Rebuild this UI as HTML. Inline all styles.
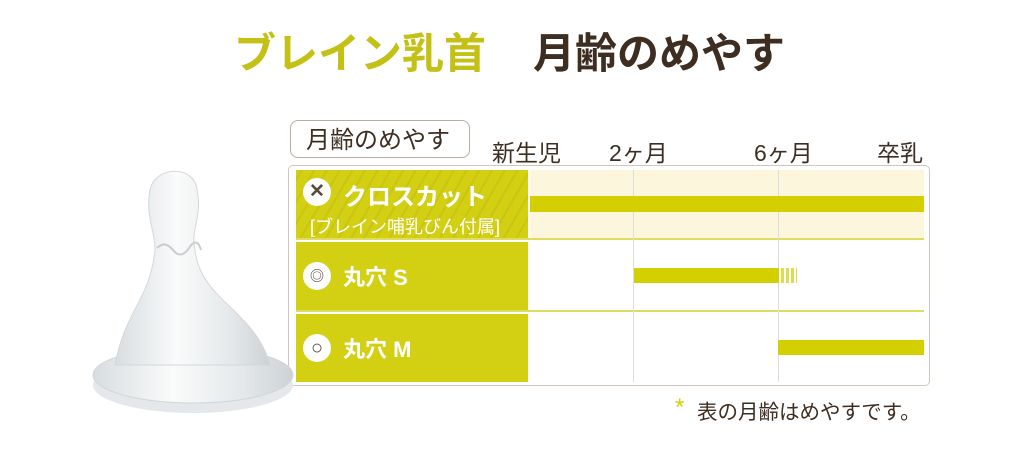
<!DOCTYPE html>
<html><head><meta charset="utf-8"><style>
body{margin:0;width:1024px;height:455px;background:#fff;position:relative;overflow:hidden;font-family:"Liberation Sans","Noto Sans CJK JP",sans-serif;color:#3e2e22}
.a{position:absolute;white-space:nowrap}
.lab{background:#d3cf13;color:#fff;font-weight:bold}
.ic{position:absolute;width:28px;height:28px;border-radius:50%;background:#fff;color:#5a4a3a;text-align:center;line-height:28px;font-size:19px;font-weight:bold}
</style></head><body>
<div class="a" style="left:234px;top:20px;font-size:42px;color:#c4c116;font-weight:bold">ブレイン乳首</div>
<div class="a" style="left:533px;top:20px;font-size:42px;color:#3e2e22;font-weight:bold">月齢のめやす</div>

<div class="a" style="left:290px;top:120px;width:178px;height:36px;border:1.5px solid #b8aca0;border-radius:8px;background:#fff"></div>
<div class="a" style="left:306px;top:120px;font-size:24px">月齢のめやす</div>
<div class="a" style="left:492px;top:134px;font-size:23px">新生児</div>
<div class="a" style="left:609px;top:134px;font-size:23px">2ヶ月</div>
<div class="a" style="left:754px;top:134px;font-size:23px">6ヶ月</div>
<div class="a" style="left:877px;top:134px;font-size:23px">卒乳</div>

<div class="a" style="left:288px;top:165px;width:642px;height:221px;border:1.5px solid #cfc7bd;border-radius:5px;box-sizing:border-box"></div>
<div class="a" style="left:530px;top:170px;width:394px;height:68px;background:#fbf6dc"></div>
<div class="a" style="left:296px;top:238px;width:628px;height:2px;background:#e0dc60"></div>
<div class="a" style="left:296px;top:310px;width:628px;height:2px;background:#e0dc60"></div>
<div class="a" style="left:633px;top:170px;width:1px;height:212px;background:#ddd"></div>
<div class="a" style="left:778px;top:170px;width:1px;height:212px;background:#ddd"></div>

<div class="a lab" style="left:296px;top:170px;width:232px;height:68px;background:repeating-linear-gradient(-60deg,#d3cf13 0 9px,#c9c512 9px 11px)"></div>
<div class="ic" style="left:303px;top:178px">✕</div>
<div class="a" style="left:343px;top:177px;font-size:24px;color:#fff;font-weight:bold">クロスカット</div>
<div class="a" style="left:310px;top:213px;font-size:18px;color:#fff">[ブレイン哺乳びん付属]</div>

<div class="a lab" style="left:296px;top:242px;width:232px;height:68px"></div>
<div class="ic" style="left:303px;top:262px;font-size:14px">◎</div>
<div class="a" style="left:343px;top:260px;font-size:22px;color:#fff;font-weight:bold">丸穴 S</div>

<div class="a lab" style="left:296px;top:314px;width:232px;height:68px"></div>
<div class="ic" style="left:303px;top:334px;font-size:20px">○</div>
<div class="a" style="left:343px;top:332px;font-size:22px;color:#fff;font-weight:bold">丸穴 M</div>

<div class="a" style="left:530px;top:196px;width:394px;height:16px;background:#d3cf00"></div>
<div class="a" style="left:634px;top:268px;width:145px;height:15px;background:#d3cf00"></div>
<div class="a" style="left:781px;top:268px;width:16px;height:15px;background:repeating-linear-gradient(90deg,#e0dc50 0 3px,#fff 3px 5px)"></div>
<div class="a" style="left:778px;top:340px;width:146px;height:15px;background:#d3cf00"></div>

<div class="a" style="left:675px;top:394px;font-size:24px;color:#d3cf00">*</div>
<div class="a" style="left:697px;top:395px;font-size:20.5px">表の月齢はめやすです。</div>

<svg class="a" style="left:85px;top:160px" width="220" height="270">
<defs><linearGradient id="g" x1="0" x2="1"><stop offset="0" stop-color="#d8dde0"/><stop offset=".4" stop-color="#fafbfb"/><stop offset=".75" stop-color="#e4e8ea"/><stop offset="1" stop-color="#cdd2d5"/></linearGradient></defs>
<ellipse cx="108" cy="225" rx="100" ry="28" fill="#e4e8ea"/>
<ellipse cx="108" cy="215" rx="100" ry="28" fill="url(#g)" stroke="#d0d5d8"/>
<path d="M30 205 C40 150 65 140 70 90 C70 70 60 55 65 30 C70 5 110 5 112 30 C118 55 105 70 110 90 C115 140 170 150 185 205 Z" fill="url(#g)" stroke="#d3d8db"/>
<path d="M72 88 Q80 80 88 90 T104 88 T116 90" fill="none" stroke="#c8cdd0" stroke-width="2"/>
</svg>
</body></html>
